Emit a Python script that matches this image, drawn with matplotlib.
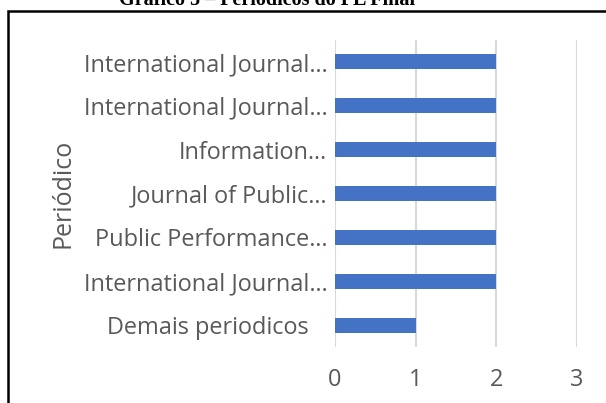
import numpy as np
import matplotlib
matplotlib.use("Agg")
import matplotlib.pyplot as plt
from matplotlib.patches import Rectangle

# Data (top to bottom as shown); the last label carries trailing spaces in the source
periodicos = [
    "International Journal…",
    "International Journal…",
    "Information…",
    "Journal of Public…",
    "Public Performance…",
    "International Journal…",
    "Demais periodicos   ",
]
artigos = [2, 2, 2, 2, 2, 2, 1]
x_ticks = [0, 1, 2, 3]

W, H = 606, 403
fig = plt.figure(figsize=(W / 100, H / 100), dpi=100)

# Excel-like plot area
ax = fig.add_axes([335 / W, 1 - 347 / H, (577 - 335) / W, 307 / H])

pos = np.arange(len(periodicos))
ax.barh(pos, artigos, height=0.34, color="#4472C4", zorder=3)
ax.set_ylim(len(periodicos) - 0.5, -0.5)
ax.set_xlim(0, 3)
ax.set_yticks(pos)
ax.set_yticklabels(periodicos)
ax.set_xticks(x_ticks)

ax.grid(axis="x", color="#d9d9d9", lw=1.5, zorder=0)
for s in ax.spines.values():
    s.set_visible(False)
ax.tick_params(axis="both", length=0, colors="#595959", labelsize=16.9)
ax.tick_params(axis="y", pad=5.5)
ax.tick_params(axis="x", pad=15)
for lbl in ax.get_xticklabels() + ax.get_yticklabels():
    lbl.set_family("Open Sans")

ax.set_ylabel("Periódico", fontsize=18, color="#595959", family="Open Sans")
ax.yaxis.set_label_coords(-1.074, 0.5)

# outer border (cut off at right and bottom)
fig.patches.append(Rectangle((8 / W, -0.05), 1.2, 1 - 11 / H + 0.05,
                             transform=fig.transFigure, fill=False,
                             edgecolor="black", lw=1.8))

fig.text(267 / W, 1 - 5 / H, "Gráfico 5 – Periódicos do PL Final",
         ha="center", va="baseline", fontsize=14.5, fontweight="bold",
         family="Liberation Serif")

fig.savefig("out.png", dpi=100)
